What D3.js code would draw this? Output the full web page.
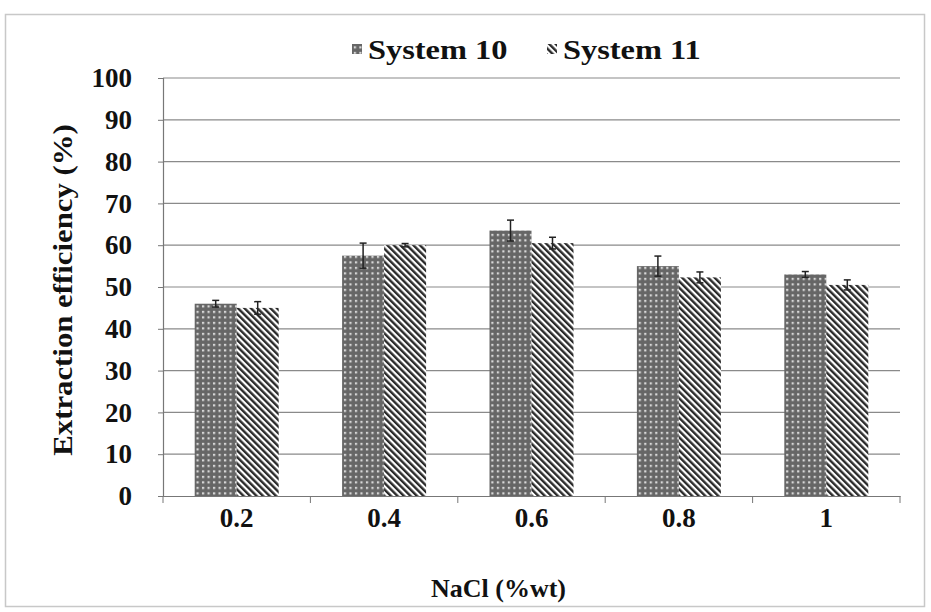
<!DOCTYPE html>
<html>
<head>
<meta charset="utf-8">
<script src="https://cdn.jsdelivr.net/npm/d3@7"></script>
<style>
  body { margin: 0; background: #fff; }
  svg text {
    font-family: "Liberation Serif", "Times New Roman", Times, serif !important;
    font-weight: bold; fill: #111;
  }
</style>
</head>
<body>
<div id="chart"></div>
<script>
const categories = ["0.2", "0.4", "0.6", "0.8", "1"];
const seriesNames = ["System 10", "System 11"];
const system10 = [46, 57.5, 63.5, 55, 53];
const system10Err = [0.8, 3, 2.5, 2.4, 0.7];
const system11 = [45, 60, 60.5, 52.3, 50.5];
const system11Err = [1.5, 0.4, 1.4, 1.3, 1.2];
const yTicks = [0, 10, 20, 30, 40, 50, 60, 70, 80, 90, 100];

const W = 931, H = 612;
const margin = { top: 78, right: 31, bottom: 116, left: 163 };
const width = W - margin.left - margin.right;
const height = H - margin.top - margin.bottom;

const svgRoot = d3.select("#chart").append("svg")
    .attr("width", W)
    .attr("height", H);

// patterns
const defs = svgRoot.append("defs");
const p10 = defs.append("pattern")
    .attr("id", "pat10")
    .attr("patternUnits", "userSpaceOnUse")
    .attr("width", 5.5).attr("height", 5.5);
p10.append("rect").attr("width", 5.5).attr("height", 5.5).attr("fill", "#666");
p10.append("rect").attr("x", 1.8).attr("y", 1.8).attr("width", 2.2).attr("height", 2.2).attr("fill", "#d8d8d8");

const p11 = defs.append("pattern")
    .attr("id", "pat11")
    .attr("patternUnits", "userSpaceOnUse")
    .attr("width", 4.6).attr("height", 10)
    .attr("patternTransform", "rotate(-45)");
p11.append("rect").attr("width", 4.6).attr("height", 10).attr("fill", "#fff");
p11.append("rect").attr("width", 2.4).attr("height", 10).attr("fill", "#2a2a2a");

// outer frame
svgRoot.append("rect")
    .attr("x", 5.5).attr("y", 14.5)
    .attr("width", 919).attr("height", 592)
    .attr("fill", "none")
    .attr("stroke", "#c8c8c8")
    .attr("stroke-width", 1.5);

const svg = svgRoot.append("g")
    .attr("transform", `translate(${margin.left},${margin.top})`);

const x = d3.scaleBand()
    .domain(categories)
    .range([0, width]);

const x1 = d3.scaleBand()
    .domain(seriesNames)
    .range([0, 84])
    .padding(0);

const y = d3.scaleLinear()
    .domain([0, 100])
    .range([height, 0]);

// gridlines
svg.append("g")
    .selectAll("line")
    .data(yTicks.slice(1))
    .enter().append("line")
    .attr("x1", 0).attr("x2", width)
    .attr("y1", d => y(d)).attr("y2", d => y(d))
    .attr("stroke", "#8a8a8a")
    .attr("stroke-width", 1.2);

const data = categories.map((c, i) => ({
    cat: c,
    vals: [
        { key: "System 10", v: system10[i], e: system10Err[i], fill: "url(#pat10)" },
        { key: "System 11", v: system11[i], e: system11Err[i], fill: "url(#pat11)" }
    ]
}));

const groups = svg.selectAll(".grp")
    .data(data)
    .enter().append("g")
    .attr("class", "grp")
    .attr("transform", d => `translate(${x(d.cat) + (x.bandwidth() - 84) / 2},0)`);

groups.selectAll("rect")
    .data(d => d.vals)
    .enter().append("rect")
    .attr("x", d => x1(d.key))
    .attr("y", d => y(d.v))
    .attr("width", x1.bandwidth())
    .attr("height", d => y(0) - y(d.v))
    .attr("fill", d => d.fill);

// error bars
const eb = groups.selectAll(".err")
    .data(d => d.vals)
    .enter().append("g")
    .attr("class", "err")
    .attr("stroke", "#222")
    .attr("stroke-width", 1.5);
eb.append("line")
    .attr("x1", d => x1(d.key) + x1.bandwidth() / 2)
    .attr("x2", d => x1(d.key) + x1.bandwidth() / 2)
    .attr("y1", d => y(d.v - d.e))
    .attr("y2", d => y(d.v + d.e));
[1, -1].forEach(s => {
    eb.append("line")
        .attr("x1", d => x1(d.key) + x1.bandwidth() / 2 - 3.5)
        .attr("x2", d => x1(d.key) + x1.bandwidth() / 2 + 3.5)
        .attr("y1", d => y(d.v + s * d.e))
        .attr("y2", d => y(d.v + s * d.e));
});

// y axis
const yAxis = svg.append("g")
    .call(d3.axisLeft(y).tickValues(yTicks).tickSize(5).tickPadding(26));
yAxis.select(".domain").attr("stroke", "#777").attr("stroke-width", 1.2);
yAxis.selectAll(".tick line").attr("stroke", "#777");
yAxis.selectAll("text")
    .style("font-size", "27px")
    .attr("fill", "#111");

// x axis
const xAxis = svg.append("g")
    .attr("transform", `translate(0,${height})`)
    .call(d3.axisBottom(x).tickSize(0).tickPadding(12));
xAxis.select(".domain").attr("stroke", "#777").attr("stroke-width", 1.2);
xAxis.selectAll("text")
    .style("font-size", "27px")
    .attr("fill", "#111");
xAxis.selectAll(".bound")
    .data(d3.range(categories.length + 1))
    .enter().append("line")
    .attr("class", "bound")
    .attr("x1", i => i * x.step()).attr("x2", i => i * x.step())
    .attr("y1", 0).attr("y2", 7)
    .attr("stroke", "#777");

// axis titles
svg.append("g")
    .attr("transform", `translate(-100,${height / 2 + 3}) rotate(-90)`)
    .append("text")
    .attr("text-anchor", "middle")
    .attr("dy", "0.35em")
    .style("font-size", "27px")
    .style("transform-box", "fill-box")
    .style("transform-origin", "center")
    .style("transform", "scaleX(1.14)")
    .text("Extraction efficiency (%)");

svg.append("text")
    .attr("x", width / 2 - 33)
    .attr("y", height + 101)
    .attr("text-anchor", "middle")
    .style("font-size", "26px")
    .text("NaCl (%wt)");

// legend
const legend = svgRoot.append("g")
    .attr("transform", "translate(352, 50)");
const legendItems = legend.selectAll(".legend-item")
    .data([
        { label: "System 10", fill: "url(#pat10)", dx: 0 },
        { label: "System 11", fill: "url(#pat11)", dx: 195 }
    ])
    .enter().append("g")
    .attr("class", "legend-item")
    .attr("transform", d => `translate(${d.dx},0)`);
legendItems.append("rect")
    .attr("x", 0).attr("y", -6)
    .attr("width", 10).attr("height", 10)
    .attr("fill", d => d.fill);
legendItems.append("g")
    .attr("transform", "translate(16,9)")
    .append("text")
    .style("font-size", "27px")
    .style("transform-box", "fill-box")
    .style("transform-origin", "left center")
    .style("transform", "scaleX(1.2)")
    .text(d => d.label);
</script>
</body>
</html>
